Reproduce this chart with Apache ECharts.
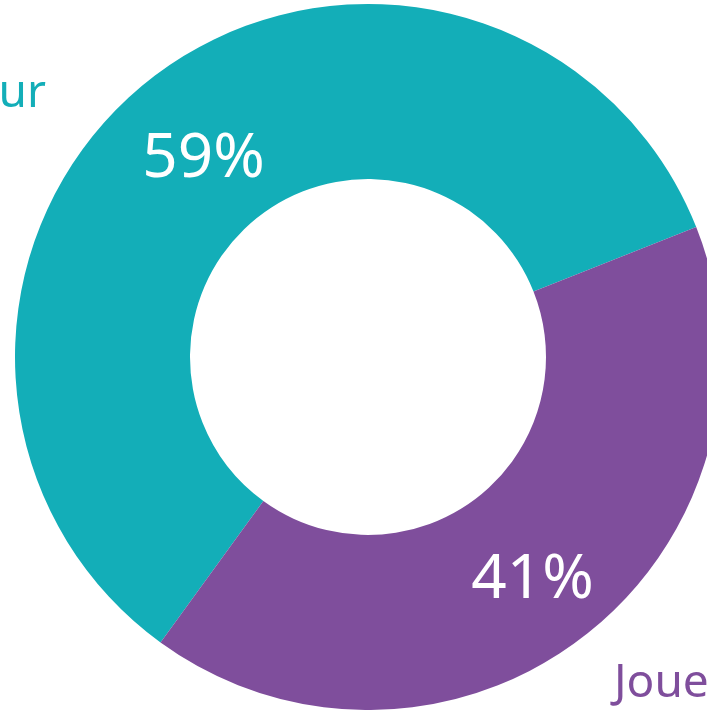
<!DOCTYPE html>
<html>
<head>
<meta charset="utf-8">
<script src="https://cdn.jsdelivr.net/npm/echarts@6/dist/echarts.min.js"></script>
<style>
    html, body { margin: 0; padding: 0; background: #fff; }
    #chart { width: 707px; height: 710px; }
</style>
</head>
<body>
<div id="chart"></div>
<script>
// categories et valeurs
var categories = ['Pour', 'Joueur'];
var values = [59, 41];
var colors = ['#13aeb8', '#7f4e9c'];

var pieData = [];
for (var i = 0; i < categories.length; i++) {
    pieData.push({
        name: categories[i],
        value: values[i],
        itemStyle: {color: colors[i]},
        label: {color: colors[i]}
    });
}

// positions des noms (hors de l'anneau)
var namePos = [
    {x: 46, y: 94, align: 'right'},
    {x: 614, y: 684, align: 'left'}
];
// petit décalage vertical des pourcentages
var pctShift = [15, 11];

var Chart = echarts.init(document.getElementById('chart'));
Chart.setOption({
    animation: false,
    series: [
        {
            // anneau avec pourcentages
            type: 'pie',
            center: [368, 357],
            radius: [178, 353],
            startAngle: 234,
            clockwise: true,
            silent: true,
            itemStyle: {
                borderColor: '#fff',
                borderWidth: 3
            },
            label: {
                show: true,
                position: 'inside',
                formatter: '{d}%',
                color: '#fff',
                fontFamily: 'Noto Sans',
                fontSize: 62
            },
            labelLine: {show: false},
            labelLayout: function (params) {
                return {dy: pctShift[params.dataIndex]};
            },
            data: values.map(function (v, i) {
                return {name: categories[i], value: v, itemStyle: {color: colors[i]}};
            })
        },
        {
            // noms des catégories
            type: 'pie',
            center: [368, 357],
            radius: [178, 353],
            startAngle: 234,
            silent: true,
            itemStyle: {color: 'transparent', borderWidth: 0},
            label: {
                show: true,
                position: 'outside',
                formatter: '{b}',
                overflow: 'none',
                width: 400,
                fontFamily: 'Noto Sans',
                fontSize: 46
            },
            labelLine: {show: false},
            labelLayout: function (params) {
                var p = namePos[params.dataIndex];
                return {x: p.x, y: p.y, align: p.align, verticalAlign: 'middle'};
            },
            data: pieData
        }
    ]
});
</script>
</body>
</html>
